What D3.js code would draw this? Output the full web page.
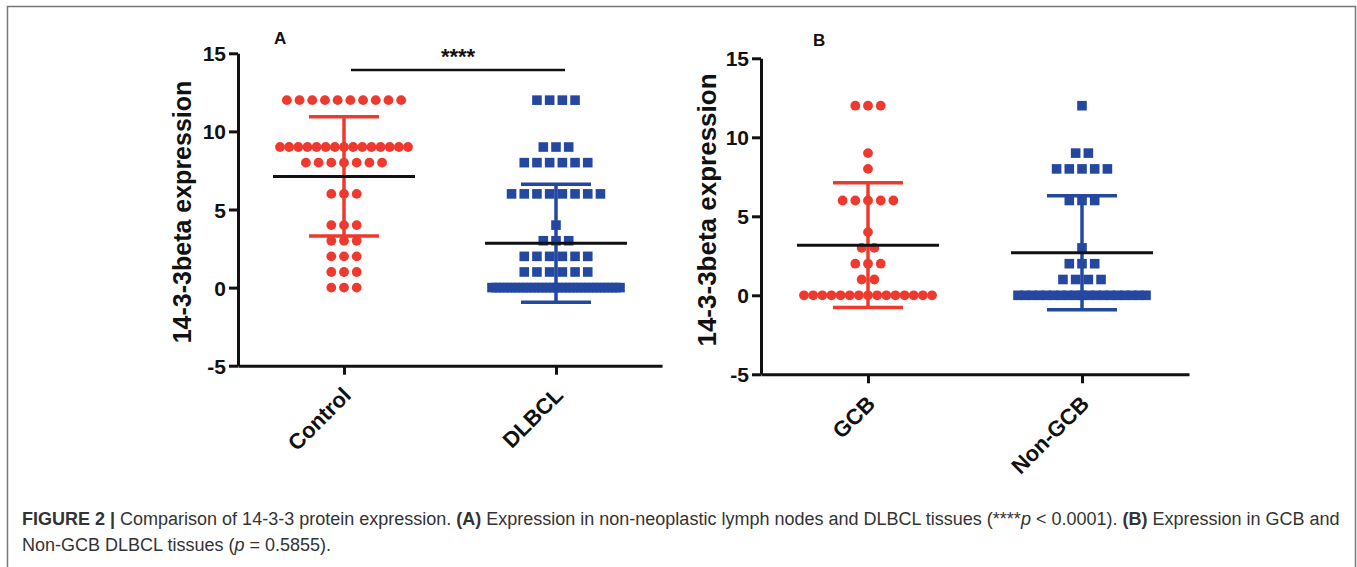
<!DOCTYPE html>
<html lang="en">
<head>
<meta charset="utf-8">
<script src="https://d3js.org/d3.v7.min.js"></script>
<style>
  body { margin: 0; background: #fff; }
  svg text { font-family: "Liberation Sans", Arial, sans-serif; }
</style>
</head>
<body>
<div id="chart"></div>
<script>
// expression score levels, counts of samples at each level
const levels = [12, 9, 8, 6, 4, 3, 2, 1, 0];
const controlCounts = [10, 15, 7, 3, 3, 3, 3, 3, 3];
const dlbclCounts   = [4, 3, 6, 8, 1, 3, 6, 6, 34];
const gcbCounts     = [3, 1, 1, 5, 1, 2, 3, 2, 15];
const nonGcbCounts  = [1, 2, 5, 3, 0, 1, 3, 4, 19];

// mean and SD
const meansA = [7.12, 2.84];
const sdsA   = [3.82, 3.78];
const meansB = [3.17, 2.69];
const sdsB   = [3.95, 3.61];

const catsA = ["Control", "DLBCL"];
const catsB = ["GCB", "Non-GCB"];
const yTicks = [-5, 0, 5, 10, 15];

const red = "#ee3a2e";
const blue = "#2447a0";

const width = 1357, height = 567;
const svg = d3.select("#chart").append("svg")
    .attr("width", width)
    .attr("height", height);

// outer frame
svg.append("rect")
    .attr("x", 7.5).attr("y", 6.5)
    .attr("width", 1348).attr("height", 600)
    .attr("fill", "none")
    .attr("stroke", "#777")
    .attr("stroke-width", 1.5);

function panel(opt) {
    const g = svg.append("g");
    const x = d3.scalePoint().domain(opt.cats).range([opt.x0, opt.x1]).padding(0.5);
    const y = d3.scaleLinear().domain([-5, 15]).range([opt.yBottom, opt.yTop]);

    // points
    opt.series.forEach((counts, si) => {
        const cx = x(opt.cats[si]);
        const pts = [];
        levels.forEach((v, li) => {
            const n = counts[li];
            const step = n > 1 ? Math.min(12.7, 128 / (n - 1)) : 0;
            for (let i = 0; i < n; i++) {
                pts.push({ x: cx + (i - (n - 1) / 2) * step, v: v });
            }
        });
        if (si === 0) {
            g.append("g").selectAll("circle")
                .data(pts)
                .join("circle")
                .attr("cx", d => d.x)
                .attr("cy", d => y(d.v))
                .attr("r", 4.9)
                .attr("fill", red);
        } else {
            g.append("g").selectAll("rect")
                .data(pts)
                .join("rect")
                .attr("x", d => d.x - 4.8)
                .attr("y", d => y(d.v) - 4.8)
                .attr("width", 9.6)
                .attr("height", 9.6)
                .attr("fill", blue);
        }
    });

    // SD bars and mean lines
    opt.cats.forEach((c, i) => {
        const cx = x(c);
        const col = i === 0 ? red : blue;
        const m = opt.means[i], s = opt.sds[i];
        g.append("line")
            .attr("x1", cx).attr("x2", cx)
            .attr("y1", y(m + s)).attr("y2", y(m - s))
            .attr("stroke", col).attr("stroke-width", 3.5);
        [m + s, m - s].forEach(v => {
            g.append("line")
                .attr("x1", cx - 35).attr("x2", cx + 35)
                .attr("y1", y(v)).attr("y2", y(v))
                .attr("stroke", col).attr("stroke-width", 3.5);
        });
        g.append("line")
            .attr("x1", cx - 71).attr("x2", cx + 71)
            .attr("y1", y(m)).attr("y2", y(m))
            .attr("stroke", "#111").attr("stroke-width", 3);
    });

    // y axis
    const yAxis = g.append("g")
        .attr("transform", "translate(" + opt.x0 + ",0)")
        .call(d3.axisLeft(y).tickValues(yTicks).tickFormat(d => String(d))
            .tickSize(9).tickSizeOuter(0).tickPadding(3));
    // x axis
    const xAxis = g.append("g")
        .attr("transform", "translate(0," + opt.yBottom + ")")
        .call(d3.axisBottom(x).tickSize(9).tickSizeOuter(0));

    [yAxis, xAxis].forEach(a => {
        a.select(".domain").attr("stroke", "#111").attr("stroke-width", 3);
        a.selectAll(".tick line").attr("stroke", "#111").attr("stroke-width", 3);
        a.selectAll("text")
            .attr("fill", "#111")
            .style("font-size", "21px")
            .style("font-weight", "bold");
    });
    yAxis.selectAll("text").attr("dy", "0.36em");
    xAxis.selectAll("text")
        .attr("x", 0).attr("y", 0).attr("dy", "0.7em")
        .attr("text-anchor", "end")
        .attr("transform", "translate(-3,20) rotate(-45)")
        .style("font-size", "22px");

    // y title
    g.append("text")
        .attr("transform", "translate(" + opt.titleX + "," + opt.titleY + ") rotate(-90)")
        .attr("text-anchor", "middle")
        .style("font-size", opt.titleSize + "px")
        .style("font-weight", "bold")
        .attr("fill", "#111")
        .text("14-3-3beta expression");

    // panel letter
    g.append("text")
        .attr("x", opt.letterX).attr("y", opt.letterY)
        .style("font-size", "17px")
        .style("font-weight", "bold")
        .attr("fill", "#111")
        .text(opt.letter);

    return { g, x, y };
}

const pA = panel({
    cats: catsA, series: [controlCounts, dlbclCounts], means: meansA, sds: sdsA,
    x0: 238, x1: 662, yTop: 53.3, yBottom: 365.7,
    titleX: 191, titleY: 212, titleSize: 25, letter: "A", letterX: 274, letterY: 44
});
panel({
    cats: catsB, series: [gcbCounts, nonGcbCounts], means: meansB, sds: sdsB,
    x0: 761, x1: 1189, yTop: 58.3, yBottom: 374.3,
    titleX: 716, titleY: 210, titleSize: 26, letter: "B", letterX: 813, letterY: 46
});

// significance bar in panel A
pA.g.append("line")
    .attr("x1", pA.x("Control") + 7).attr("x2", pA.x("DLBCL") + 9)
    .attr("y1", 70).attr("y2", 70)
    .attr("stroke", "#111").attr("stroke-width", 2.5);
pA.g.append("text")
    .attr("x", (pA.x("Control") + pA.x("DLBCL")) / 2 + 8)
    .attr("y", 64)
    .attr("text-anchor", "middle")
    .style("font-size", "22px")
    .style("font-weight", "bold")
    .attr("fill", "#111")
    .text("****");

// caption
const cap = svg.append("g").attr("fill", "#333");
const l1 = cap.append("text").attr("x", 22).attr("y", 525).style("font-size", "15.5px");
l1.append("tspan").style("font-weight", "bold").text("FIGURE 2 | ");
l1.append("tspan").text("Comparison of 14-3-3 protein expression. ");
l1.append("tspan").style("font-weight", "bold").text("(A)");
l1.append("tspan").text(" Expression in non-neoplastic lymph nodes and DLBCL tissues (****");
l1.append("tspan").style("font-style", "italic").text("p");
l1.append("tspan").text(" < 0.0001). ");
l1.append("tspan").style("font-weight", "bold").text("(B)");
l1.append("tspan").text(" Expression in GCB and");
const l2 = cap.append("text").attr("x", 22).attr("y", 551).style("font-size", "15.5px");
l2.append("tspan").text("Non-GCB DLBCL tissues (");
l2.append("tspan").style("font-style", "italic").text("p");
l2.append("tspan").text(" = 0.5855).");
// fit first caption line to the page width as in the original
const w1 = l1.node().getComputedTextLength();
const fs = 15.5 * 1318 / w1;
l1.style("font-size", fs + "px");
l2.style("font-size", fs + "px");
</script>
</body>
</html>
